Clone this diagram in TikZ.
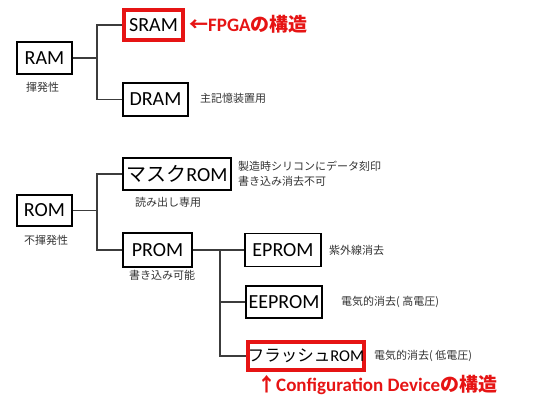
\documentclass[tikz,border=0pt]{standalone}
\usepackage{fontspec}
\setmainfont{Carlito}
\newfontfamily\jp{Noto Sans CJK JP}
\definecolor{myred}{RGB}{230,20,20}
\definecolor{linegray}{RGB}{60,60,60}
\begin{document}
\begin{tikzpicture}[x=1pt,y=-1pt,
  box/.style={draw=black,line width=1.1pt,minimum height=#1,inner sep=0pt,font=\fontsize{20}{22}\selectfont},
  box/.default=32pt,
  redbox/.style={draw=myred,line width=3.6pt,inner sep=0pt,font=\fontsize{20}{22}\selectfont},
  note/.style={font=\jp\fontsize{11}{13}\selectfont,anchor=west,inner sep=0pt,text=black!80},
  redtxt/.style={font=\bfseries\fontsize{19}{21}\selectfont,text=myred,anchor=west,inner sep=0pt},
  conn/.style={draw=linegray,line width=1.3pt}]
\useasboundingbox (0,0) rectangle (533,408);
% RAM branch
\node[box,minimum width=55pt] (RAM) at (44.5,58) {RAM};
\node[redbox,minimum width=59pt,minimum height=30pt] (SRAM) at (153.5,25) {SRAM};
\node[box=33pt,minimum width=65pt] (DRAM) at (155.5,99.5) {DRAM};
\node[redtxt] (fpga) at (189,24) {{\jp\bfseries ←}FPGA{\jp\bfseries の構造}};
\node[note] (dramnote) at (200,98) {主記憶装置用};
\node[note] (ramnote) at (26,87) {揮発性};
\coordinate (j1) at (97,58);
\draw[conn] (RAM.east) -- (j1);
\draw[conn] (j1) |- (SRAM.west);
\draw[conn] (j1) |- (DRAM.west);
% ROM branch
\node[box=31pt,minimum width=55pt] (ROM) at (44.5,210.5) {ROM};
\node[box,minimum width=108pt] (MROM) at (177,174) {{\jp マスク}ROM};
\node[box=34pt,minimum width=69pt] (PROM) at (157.5,250) {PROM};
\node[note] (mnote1) at (238,166) {製造時シリコンにデータ刻印};
\node[note] (mnote2) at (238,181) {書き込み消去不可};
\node[note] (mnote3) at (135,202) {読み出し専用};
\node[note] (romnote) at (24,240) {不揮発性};
\node[note] (pnote) at (129,275) {書き込み可能};
\coordinate (j2) at (97,210.5);
\draw[conn] (ROM.east) -- (j2);
\draw[conn] (j2) |- (MROM.west);
\draw[conn] (j2) |- (PROM.west);
% PROM sub-branch
\node[box=33pt,minimum width=76pt] (EPROM) at (283,250) {EPROM};
\node[box,minimum width=76pt] (EEPROM) at (284,302) {EEPROM};
\node[redbox,minimum width=116pt,minimum height=28pt,font=\fontsize{16.5}{18}\selectfont] (FROM) at (306,356) {{\jp フラッシュ}ROM};
\node[note] (enote) at (329,250) {紫外線消去};
\node[note] (eenote) at (341,302) {電気的消去( 高電圧)};
\node[note] (fnote) at (374,356) {電気的消去( 低電圧)};
\node[redtxt] (cfg) at (257,385) {{\jp\bfseries ↑}Configuration Device{\jp\bfseries の構造}};
\coordinate (j3) at (220,250);
\draw[conn] (PROM.east) -- (j3);
\draw[conn] (j3) -- (EPROM.west);
\draw[conn] (j3) |- (EEPROM.west);
\draw[conn] (j3) |- (FROM.west);
\end{tikzpicture}
\end{document}
